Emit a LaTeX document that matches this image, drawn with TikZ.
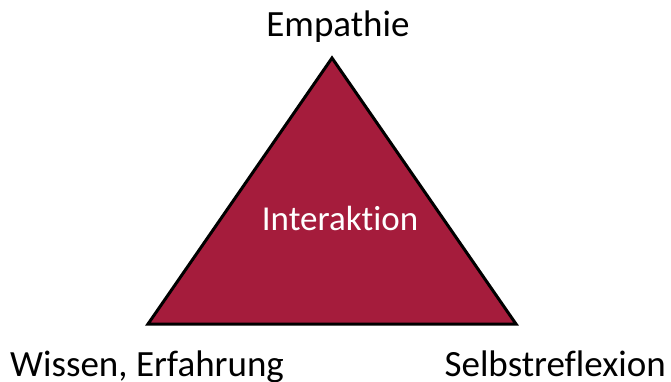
\documentclass[tikz,border=0pt]{standalone}
\usepackage{fontspec}
\setmainfont[Ligatures=NoCommon]{Carlito}
\definecolor{crimson}{HTML}{A51C3C}
\begin{document}
\begin{tikzpicture}[x=1pt,y=-1pt,
  lbl/.style={font=\fontsize{37}{40}\selectfont, inner sep=0pt},
  lblin/.style={font=\fontsize{35}{38}\selectfont, inner sep=0pt, text=white}]
\useasboundingbox (0,0) rectangle (671,382);
\coordinate (apex) at (332,58);
\coordinate (bl) at (148,324);
\coordinate (br) at (516,324);
\draw[line width=3pt, fill=crimson, line join=miter] (apex) -- (br) -- (bl) -- cycle;
\node[lbl, anchor=base] (emp) at (338,37) {Empathie};
\node[lblin, anchor=base] (int) at (340,230) {Interaktion};
\node[lbl, anchor=base west] (wis) at (10,376) {Wissen, Erfahrung};
\node[lbl, anchor=base east] (sel) at (666,376) {Selbstreflexion};
\end{tikzpicture}
\end{document}
